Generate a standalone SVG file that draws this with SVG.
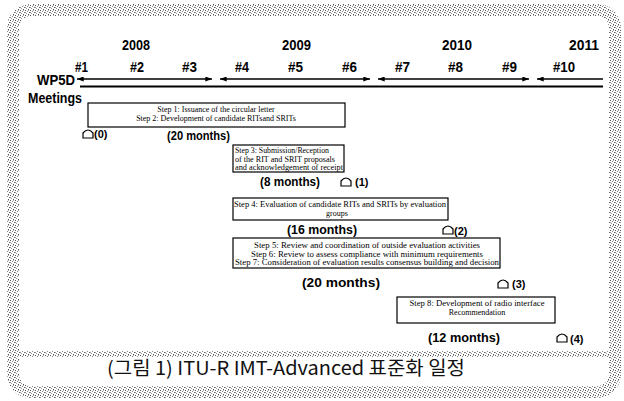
<svg xmlns="http://www.w3.org/2000/svg" width="624" height="401" viewBox="0 0 624 401">
<style>
.hdr{font-family:"Liberation Sans",Arial,sans-serif;font-weight:bold;font-size:15px;fill:#000}
.num{font-family:"Liberation Sans",Arial,sans-serif;font-weight:bold;font-size:14px;fill:#000}
.step{font-family:"Liberation Serif","Times New Roman",serif;font-size:8px;fill:#000}
.dur{font-family:"Liberation Sans",Arial,sans-serif;font-weight:bold;font-size:13px;fill:#000}
.lab{font-family:"Liberation Sans",Arial,sans-serif;font-weight:bold;font-size:11px;fill:#000}
.box{fill:#fff;stroke:#000;stroke-width:1.2}
.house{fill:#fff;stroke:#000;stroke-width:1.2}
.arr{stroke:#000;stroke-width:1.3;fill:none}
.cap{font-family:"Noto Sans CJK KR","Noto Sans",sans-serif;font-size:19px;fill:#111}
</style>
<defs>
<pattern id="noise" width="5" height="5" patternUnits="userSpaceOnUse">
<rect width="5" height="5" fill="#fff"/>
<rect x="0" y="0" width="1" height="1" fill="#555"/>
<rect x="2" y="1" width="1" height="1" fill="#888"/>
<rect x="4" y="2" width="1" height="1" fill="#666"/>
<rect x="1" y="3" width="1" height="1" fill="#999"/>
<rect x="3" y="4" width="1" height="1" fill="#555"/>
<rect x="3" y="0" width="1" height="1" fill="#aaa"/>
<rect x="0" y="2" width="1" height="1" fill="#999"/>
</pattern>
<marker id="ah" viewBox="0 0 8 6" refX="8" refY="3" markerWidth="7" markerHeight="5" orient="auto-start-reverse" markerUnits="userSpaceOnUse">
<path d="M0,0 L8,3 L0,6 Z" fill="#000"/>
</marker>
<path id="hs" d="M0,9 V4 Q5,-2 10,4 V9 Z"/>
</defs>

<g id="frame">
<rect x="13" y="10" width="602" height="382" rx="18" fill="none" stroke="url(#noise)" stroke-width="12"/>
<line x1="13" y1="354" x2="615" y2="354" stroke="url(#noise)" stroke-width="6"/>
</g>

<g id="header">
<text class="hdr" x="122" y="50" textLength="28" lengthAdjust="spacingAndGlyphs">2008</text>
<text class="hdr" x="282" y="50" textLength="29" lengthAdjust="spacingAndGlyphs">2009</text>
<text class="hdr" x="442" y="50" textLength="30" lengthAdjust="spacingAndGlyphs">2010</text>
<text class="hdr" x="569" y="50" textLength="30" lengthAdjust="spacingAndGlyphs">2011</text>
<text class="num" x="75" y="72" textLength="13" lengthAdjust="spacingAndGlyphs">#1</text>
<text class="num" x="130" y="72" textLength="14" lengthAdjust="spacingAndGlyphs">#2</text>
<text class="num" x="182" y="72" textLength="15" lengthAdjust="spacingAndGlyphs">#3</text>
<text class="num" x="235" y="72" textLength="14" lengthAdjust="spacingAndGlyphs">#4</text>
<text class="num" x="288" y="72" textLength="15" lengthAdjust="spacingAndGlyphs">#5</text>
<text class="num" x="342" y="72" textLength="15" lengthAdjust="spacingAndGlyphs">#6</text>
<text class="num" x="395" y="72" textLength="15" lengthAdjust="spacingAndGlyphs">#7</text>
<text class="num" x="448" y="72" textLength="15" lengthAdjust="spacingAndGlyphs">#8</text>
<text class="num" x="502" y="72" textLength="15" lengthAdjust="spacingAndGlyphs">#9</text>
<text class="num" x="553" y="72" textLength="22" lengthAdjust="spacingAndGlyphs">#10</text>
<text class="hdr" x="37" y="85" textLength="38" lengthAdjust="spacingAndGlyphs">WP5D</text>
<text class="hdr" x="28" y="103" textLength="54" lengthAdjust="spacingAndGlyphs">Meetings</text>
</g>

<g id="connectors">
<line class="arr" x1="77" y1="79" x2="212" y2="79" marker-start="url(#ah)" marker-end="url(#ah)"/>
<line class="arr" x1="220" y1="79" x2="370" y2="79" marker-start="url(#ah)" marker-end="url(#ah)"/>
<line class="arr" x1="378" y1="79" x2="529" y2="79" marker-start="url(#ah)" marker-end="url(#ah)"/>
<line class="arr" x1="537" y1="79" x2="603" y2="79" marker-start="url(#ah)"/>
<line x1="80" y1="86.5" x2="603" y2="86.5" stroke="#000" stroke-width="2"/>
</g>

<g id="step12">
<rect class="box" x="88" y="103" width="257" height="24"/>
<text class="step" x="216" y="112" text-anchor="middle">Step 1: Issuance of the circular letter</text>
<text class="step" x="216" y="121" text-anchor="middle">Step 2: Development of candidate RITsand SRITs</text>
<use href="#hs" class="house" x="83" y="129"/>
<text class="lab" x="94" y="138">(0)</text>
<text class="dur" x="167" y="140" textLength="63" lengthAdjust="spacingAndGlyphs">(20 months)</text>
</g>

<g id="step3">
<rect class="box" x="233" y="145" width="111" height="27"/>
<text class="step" x="235" y="153" textLength="94" lengthAdjust="spacingAndGlyphs">Step 3: Submission/Reception</text>
<text class="step" x="235" y="161.5" textLength="100" lengthAdjust="spacingAndGlyphs">of the RIT and SRIT proposals</text>
<text class="step" x="235" y="170" textLength="108" lengthAdjust="spacingAndGlyphs">and acknowledgement of receipt</text>
<use href="#hs" class="house" x="341" y="177"/>
<text class="lab" x="355" y="186">(1)</text>
<text class="dur" x="260" y="186" textLength="60" lengthAdjust="spacingAndGlyphs">(8 months)</text>
</g>

<g id="step4">
<rect class="box" x="233" y="198" width="215" height="22"/>
<text class="step" x="340" y="207" text-anchor="middle" textLength="212" lengthAdjust="spacingAndGlyphs">Step 4: Evaluation of candidate RITs and SRITs by evaluation</text>
<text class="step" x="337" y="216" text-anchor="middle">groups</text>
<use href="#hs" class="house" x="443" y="225"/>
<text class="lab" x="454" y="235">(2)</text>
<text class="dur" x="287" y="234" textLength="70" lengthAdjust="spacingAndGlyphs">(16 months)</text>
</g>

<g id="step567">
<rect class="box" x="233" y="238" width="267" height="30"/>
<text class="step" x="367" y="248" text-anchor="middle" textLength="226" lengthAdjust="spacingAndGlyphs">Step 5: Review and coordination of outside evaluation activities</text>
<text class="step" x="367" y="256.5" text-anchor="middle" textLength="232" lengthAdjust="spacingAndGlyphs">Step 6: Review to assess compliance with minimum requirements</text>
<text class="step" x="367" y="265" text-anchor="middle" textLength="264" lengthAdjust="spacingAndGlyphs">Step 7: Consideration of evaluation results consensus building and decision</text>
<use href="#hs" class="house" x="498" y="279"/>
<text class="lab" x="512" y="288">(3)</text>
<text class="dur" x="302" y="287" textLength="78" lengthAdjust="spacingAndGlyphs">(20 months)</text>
</g>

<g id="step8">
<rect class="box" x="397" y="297" width="158" height="26"/>
<text class="step" x="477" y="306" text-anchor="middle" textLength="135" lengthAdjust="spacingAndGlyphs">Step 8: Development of radio interface</text>
<text class="step" x="477" y="315" text-anchor="middle">Recommendation</text>
<use href="#hs" class="house" x="557" y="333"/>
<text class="lab" x="570" y="343">(4)</text>
<text class="dur" x="428" y="342" textLength="72" lengthAdjust="spacingAndGlyphs">(12 months)</text>
</g>

<g id="caption">
<text class="cap" x="107" y="375" textLength="358" lengthAdjust="spacingAndGlyphs">(그림 1) ITU-R IMT-Advanced 표준화 일정</text>
</g>
</svg>
